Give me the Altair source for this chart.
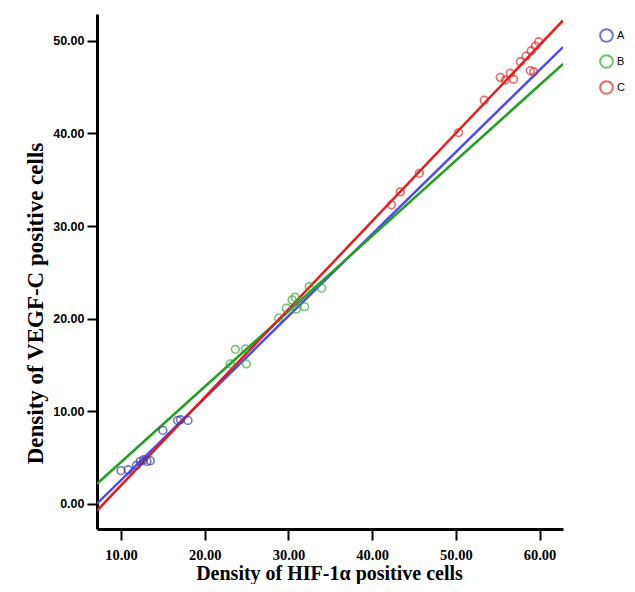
import altair as alt
import pandas as pd

groups = ["A", "B", "C"]

# scatter points
a_x = [10.0, 10.84, 11.83, 12.3, 12.7, 13.1, 13.5, 15.0, 16.76, 17.1, 18.0]
a_y = [3.6, 3.7, 4.16, 4.6, 4.78, 4.6, 4.67, 7.94, 9.02, 9.1, 9.02]
b_x = [23.06, 23.66, 24.85, 24.97, 28.83, 29.75, 30.43, 30.8, 30.95, 31.94, 32.5, 33.97]
b_y = [15.13, 16.7, 16.75, 15.13, 20.06, 21.14, 22.04, 22.33, 21.04, 21.3, 23.47, 23.3]
c_x = [42.3, 43.37, 45.64, 50.33, 53.4, 55.3, 55.9, 56.5, 56.9, 57.7, 58.4, 59.0, 59.5, 59.9, 58.9, 59.3]
c_y = [32.3, 33.7, 35.7, 40.1, 43.6, 46.06, 45.77, 46.5, 45.85, 47.75, 48.36, 48.93, 49.44, 49.9, 46.78, 46.67]

# fit lines: values at the two ends of the x axis
fit_x = [7.13, 62.8]
fit_a = [0.03, 49.33]
fit_b = [2.19, 47.5]
fit_c = [-0.72, 52.2]

x_ticks = [10, 20, 30, 40, 50, 60]
y_ticks = [0, 10, 20, 30, 40, 50]

pts = pd.DataFrame(
    [{"x": x, "y": y, "g": "A"} for x, y in zip(a_x, a_y)]
    + [{"x": x, "y": y, "g": "B"} for x, y in zip(b_x, b_y)]
    + [{"x": x, "y": y, "g": "C"} for x, y in zip(c_x, c_y)]
)
fits = pd.DataFrame(
    [{"x": x, "y": y, "g": g}
     for g, ys in zip(groups, [fit_a, fit_b, fit_c])
     for x, y in zip(fit_x, ys)]
)

xs = alt.Scale(domain=[7.13, 62.8], nice=False, zero=False)
ys = alt.Scale(domain=[-2.7, 52.9], nice=False, zero=False)

xaxis = alt.Axis(
    values=x_ticks, format=".2f", grid=False,
    domainColor="black", domainWidth=3, tickColor="black", tickWidth=2, tickSize=11,
    labelFont="Liberation Serif", labelFontWeight="bold", labelFontSize=14.5, labelColor="black",
    labelPadding=8,
    title="Density of HIF-1α positive cells",
    titleFont="Liberation Serif", titleFontWeight="bold", titleFontSize=20, titleColor="black",
    titleX=232, titleY=50, titleBaseline="alphabetic",
)
yaxis = alt.Axis(
    values=y_ticks, format=".2f", grid=False,
    domainColor="black", domainWidth=3, tickColor="black", tickWidth=2, tickSize=10,
    labelFont="Liberation Sans", labelFontWeight="bold", labelFontSize=12.5, labelColor="black",
    labelPadding=3,
    title="Density of VEGF-C positive cells",
    titleFont="Liberation Serif", titleFontWeight="bold", titleFontSize=23, titleColor="black",
    titleX=-50, titleY=289, titleAngle=-90, titleBaseline="bottom",
)

lines = alt.Chart(fits).mark_line(clip=True, strokeWidth=2.5).encode(
    x=alt.X("x:Q", scale=xs, axis=xaxis),
    y=alt.Y("y:Q", scale=ys, axis=yaxis),
    color=alt.Color("g:N", scale=alt.Scale(domain=groups, range=["#4b4bf5", "#22a022", "#e51c1c"]), legend=None),
    detail="g:N",
)

points = alt.Chart(pts).mark_point(shape="circle", filled=False, size=60, strokeWidth=1.6, clip=True).encode(
    x=alt.X("x:Q", scale=xs),
    y=alt.Y("y:Q", scale=ys),
    color=alt.Color(
        "g:N",
        scale=alt.Scale(domain=groups, range=["#3a3ab0", "#2fb02f", "#e42a2a"]),
        legend=alt.Legend(
            title=None, orient="none", legendX=502, legendY=14, padding=0,
            symbolType="circle", symbolFillColor="transparent", symbolStrokeWidth=2,
            symbolSize=160, rowPadding=5, labelFont="Liberation Sans", labelFontSize=11,
            labelColor="black", labelOffset=3,
        ),
    ),
)

chart = alt.layer(lines, points).resolve_scale(color="independent").properties(
    width=466, height=515,
    autosize=alt.AutoSizeParams(type="none"),
    padding={"left": 89, "top": 6, "right": 64, "bottom": 55},
).configure_view(stroke=None)

chart.save("out.html", embed_options={"renderer": "svg", "actions": False})
